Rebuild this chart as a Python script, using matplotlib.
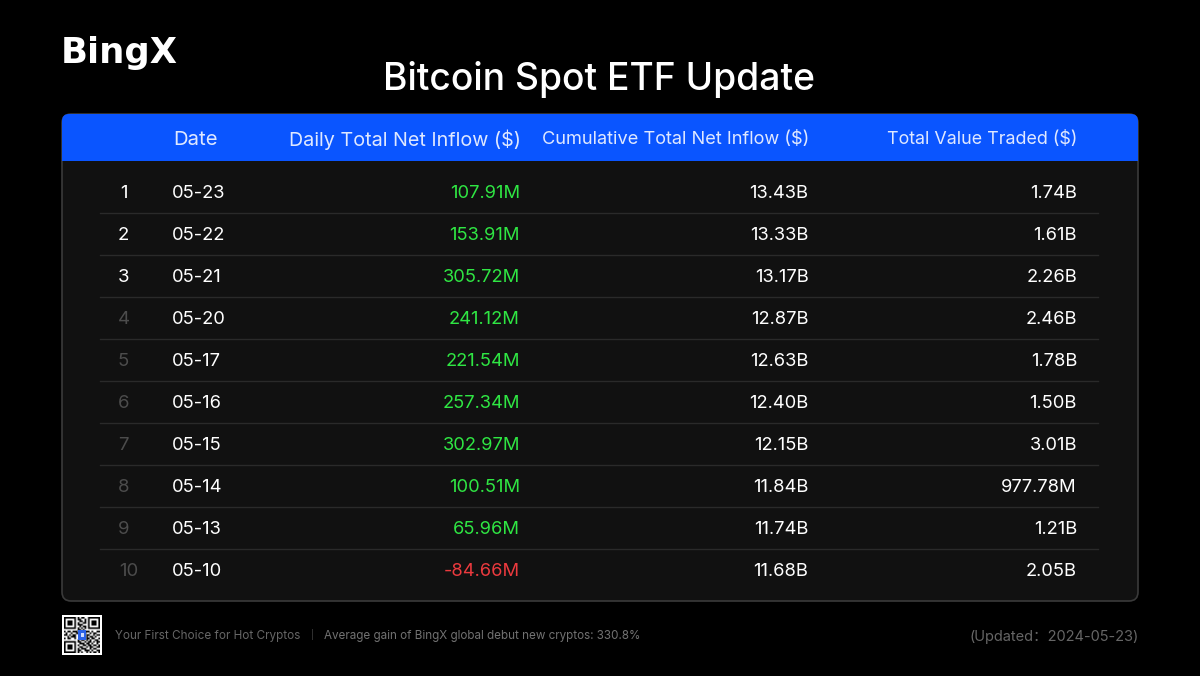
import numpy as np
import matplotlib.pyplot as plt
from matplotlib.patches import FancyBboxPatch, Rectangle

ranks = ['1', '2', '3', '4', '5', '6', '7', '8', '9', '10']
dates = ['05-23', '05-22', '05-21', '05-20', '05-17', '05-16', '05-15', '05-14', '05-13', '05-10']
daily = ['107.91M', '153.91M', '305.72M', '241.12M', '221.54M', '257.34M', '302.97M', '100.51M', '65.96M', '-84.66M']
cumulative = ['13.43B', '13.33B', '13.17B', '12.87B', '12.63B', '12.40B', '12.15B', '11.84B', '11.74B', '11.68B']
traded = ['1.74B', '1.61B', '2.26B', '2.46B', '1.78B', '1.50B', '3.01B', '977.78M', '1.21B', '2.05B']
headers = ['Date', 'Daily Total Net Inflow ($)', 'Cumulative Total Net Inflow ($)', 'Total Value Traded ($)']

qr_rows = ['111111101011001111111',
           '100000101100101000001',
           '101110100110101011101',
           '101110101001101011101',
           '101110101110001011101',
           '100000100101101000001',
           '111111101010101111111',
           '000000001101000000000',
           '101101110010111010011',
           '010010011100100101100',
           '110101100000011001011',
           '001011100000010110100',
           '101100100000011011001',
           '000000001011010100110',
           '111111101100101101011',
           '100000100111011010010',
           '101110101001101101101',
           '101110100110010110011',
           '101110101011100101100',
           '100000101100111010011',
           '111111101010010101101']

plt.rcParams['font.family'] = ['Inter', 'DejaVu Sans']

fig = plt.figure(figsize=(12, 6.76), dpi=100, facecolor='black')
ax = fig.add_axes([0, 0, 1, 1])
ax.set_xlim(0, 1200)
ax.set_ylim(676, 0)
ax.axis('off')

# table card + blue header
card = FancyBboxPatch((62, 114), 1076, 487, boxstyle='round,pad=0,rounding_size=9',
                      fc='#111111', ec='#3a3a3a', lw=1.2)
ax.add_patch(card)
head = FancyBboxPatch((62, 114), 1076, 47, boxstyle='round,pad=0,rounding_size=7',
                      fc='#0a55ff', ec='none', zorder=2)
ax.add_patch(head)
ax.add_patch(Rectangle((62, 135), 1076, 26, fc='#0a55ff', ec='none', zorder=2))

ax.text(61, 53, 'BingX', color='white', fontsize=25.5, fontweight='bold', fontfamily='DejaVu Sans',
        ha='left', va='center')
ax.text(599, 80, 'Bitcoin Spot ETF Update', color='white', fontsize=26.8, ha='center', va='center', fontweight='medium')

header_x = [173, 521, 809, 1077]
header_ha = ['left', 'right', 'right', 'right']
header_fs = [14.6, 14.2, 13.1, 12.9]
for h, x, a, fs in zip(headers, header_x, header_ha, header_fs):
    ax.text(x, 140, h, color='#dfe8ff', fontsize=fs, ha=a, va='center', zorder=3)

for i in range(len(ranks)):
    y = 193.5 + 42 * i
    rank_col = 'white' if i < 3 else '#4c4c4c'
    ax.text(123.5 if i < 9 else 129, y, ranks[i], color=rank_col, fontsize=13.4, ha='center', va='center')
    ax.text(172, y, dates[i], color='white', fontsize=13.2, ha='left', va='center')
    col = '#ec3a3e' if daily[i].startswith('-') else '#2fe643'
    ax.text(520, y, daily[i], color=col, fontsize=13.2, ha='right', va='center')
    ax.text(808.5, y, cumulative[i], color='white', fontsize=13.2, ha='right', va='center')
    ax.text(1077, y, traded[i], color='white', fontsize=13.2, ha='right', va='center')
    if i < len(ranks) - 1:
        ax.plot([100, 1098], [y + 19.5, y + 19.5], color='#2a2a2a', lw=1)

# qr code
ax.add_patch(Rectangle((62, 615), 40, 40, fc='white', ec='none'))
qr = np.array([[int(c) for c in r] for r in qr_rows])
ax.imshow(1 - qr, cmap='gray', extent=(64, 100, 653, 617), interpolation='bilinear', zorder=2, aspect='auto')
ax.set_xlim(0, 1200)
ax.set_ylim(676, 0)
ax.add_patch(Rectangle((78, 630), 8, 10, fc='#2a62e8', ec='none', zorder=3))
ax.add_patch(Rectangle((80.5, 633), 3, 4, fc='#cfdcff', ec='none', zorder=4))

ax.text(115, 636, 'Your First Choice for Hot Cryptos', color='#666666', fontsize=8.45, ha='left', va='center')
ax.text(312, 635, '|', color='#4a4a4a', fontsize=6, ha='center', va='center')
ax.text(324, 636, 'Average gain of BingX global debut new cryptos: 330.8%', color='#727272', fontsize=8.4, ha='left', va='center')
ax.text(1139, 637, '(Updated\uff1a2024-05-23)', color='#666666', fontsize=10.5, ha='right', va='center',
        fontfamily=['Inter', 'Noto Sans CJK SC'])

fig.savefig('out.png', dpi=100, facecolor='black')
